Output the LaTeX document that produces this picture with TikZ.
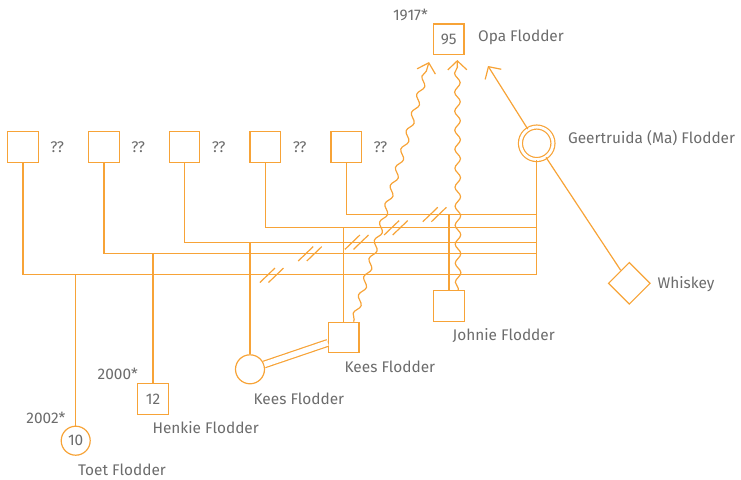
\documentclass[tikz,border=0pt]{standalone}
\usepackage{fontspec}
\setmainfont{Fira Sans}
\usetikzlibrary{positioning,shapes.geometric,arrows.meta,decorations.pathmorphing}
\definecolor{flodder}{RGB}{247,163,55}
\definecolor{tekst}{RGB}{108,108,108}
\newcommand{\lblfont}{\fontsize{15.4}{18}\selectfont}

\begin{document}
\begin{tikzpicture}[x=1pt,y=-1pt,line width=1.2pt,color=flodder,
  persoon/.style={draw=flodder,line width=1.2pt,inner sep=0pt,minimum size=30.5pt,text=tekst,font=\lblfont},
  man/.style={persoon,rectangle},
  vrouw/.style={persoon,circle,minimum size=29pt},
  hond/.style={persoon,diamond,minimum width=42pt,minimum height=42pt},
  lbl/.style={text=tekst,font=\lblfont,inner sep=0pt},
  golf/.style={decorate,decoration={snake,segment length=19pt,amplitude=2.8pt,pre length=2pt,post length=4pt}},
  pijl/.style={-{Straight Barb[length=9pt,width=19pt]}}]
\useasboundingbox (0,0) rectangle (741,479);

% ouders
\foreach \i/\x in {1/23,2/104,3/184.5,4/265.3,5/346.2} {
  \node[man] (p\i) at (\x,147) {};
  \node[lbl,right=11pt of p\i] (q\i) {??};
}
\node[vrouw,double,double distance=2.8pt,minimum size=32.5pt] (ma) at (536.7,143.3) {};
\node[lbl,anchor=west] (manaam) at (567.5,138.5) {Geertruida (Ma) Flodder};
\node[hond] (whiskey) at (629.3,283.3) {};
\node[lbl,anchor=west] (whiskeynaam) at (657,284.5) {Whiskey};
\node[man] (opa) at (448.7,39.3) {95};
\node[lbl,anchor=west] (opanaam) at (477.5,37) {Opa Flodder};
\node[lbl,anchor=east] (opajr) at (428.5,15) {1917*};

% kinderen
\node[man] (johnie) at (449,306) {};
\node[lbl,anchor=west] (johnienaam) at (452,336) {Johnie Flodder};
\node[man] (keess) at (343.7,337.5) {};
\node[lbl,anchor=west] (keessnaam) at (344,366.5) {Kees Flodder};
\node[vrouw] (keesv) at (250,369.3) {};
\node[lbl,anchor=west] (keesvnaam) at (253,398.5) {Kees Flodder};
\node[man] (henkie) at (153,399) {12};
\node[lbl,anchor=east] (henkiejr) at (138.5,373.5) {2000*};
\node[lbl,anchor=west] (henkienaam) at (152,428) {Henkie Flodder};
\node[vrouw] (toet) at (75.7,440.7) {10};
\node[lbl,anchor=east] (toetjr) at (66,417.5) {2002*};
\node[lbl,anchor=west] (toetnaam) at (77.5,469.5) {Toet Flodder};

% relaties
\coordinate (j1) at (536.7,274.3);
\coordinate (j2) at (536.7,253.3);
\coordinate (j3) at (536.7,242.3);
\coordinate (j4) at (536.7,227.5);
\coordinate (j5) at (536.7,214.3);
\draw (ma) -- (j1);
\foreach \i in {1,...,5} \draw (p\i) |- (j\i);
\draw (toet) -- (toet |- j1);
\draw (henkie) -- (henkie |- j2);
\draw (keesv) -- (keesv |- j3);
\draw (keess) -- (keess |- j4);
\draw (johnie) -- (johnie |- j5);
\foreach \x/\y in {271.7/275.3,310/253.8,356.7/242.2,395.9/227.8,434.6/214.5}
  \draw (\x-11.8,\y+7.2) -- (\x+3.2,\y-7.2) (\x-3.2,\y+7.2) -- (\x+11.8,\y-7.2);
\draw[double,double distance=5.5pt] (keesv) -- (keess);
\draw (ma) -- (whiskey);

% naar opa
\coordinate (opaL) at (429,62);
\coordinate (opaR) at (457.3,60);
\coordinate (opaM) at (488,66);
\draw[golf,pijl] (keess.58) -- (opaL);
\draw[golf,pijl] (johnie.60) -- (opaR);
\draw[pijl] (ma) -- (opaM);
\end{tikzpicture}
\end{document}
